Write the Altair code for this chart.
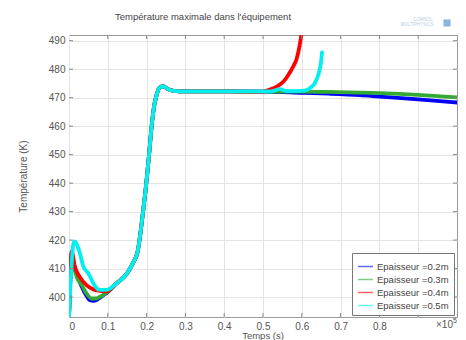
import altair as alt
import pandas as pd

# ---- data (time in units of 1e5 s, temperature in K) ----
names = ["Epaisseur =0.2m", "Epaisseur =0.3m", "Epaisseur =0.4m", "Epaisseur =0.5m"]
colors = ["#0000ff", "#33aa33", "#ff0000", "#00f0f0"]

rise_t = [0.12, 0.15, 0.165, 0.177, 0.19, 0.2, 0.207, 0.213, 0.22, 0.226, 0.232, 0.242, 0.255, 0.27, 0.3, 0.4, 0.5]
rise_T = [404.5, 408.4, 412.0, 416.0, 429.0, 441.0, 451.0, 460.0, 467.5, 471.0, 473.3, 474.0, 473.0, 472.4, 472.2, 472.2, 472.1]

t_02 = [0, 0.003, 0.007, 0.012, 0.02, 0.03, 0.045, 0.054, 0.063, 0.071, 0.08, 0.09, 0.1] + rise_t + [0.6, 0.67, 0.75, 0.8, 0.9, 1.0]
T_02 = [393, 405, 415.5, 412, 408, 404.5, 400.5, 398.9, 398.7, 399.0, 399.8, 400.8, 401.8] + rise_T + [471.7, 471.4, 470.9, 470.4, 469.4, 468.3]

t_03 = [0, 0.003, 0.007, 0.012, 0.02, 0.033, 0.045, 0.058, 0.071, 0.08, 0.088, 0.1] + rise_t + [0.6, 0.67, 0.75, 0.8, 0.9, 1.0]
T_03 = [393, 405, 415, 411, 407, 404.2, 401.3, 399.5, 399.5, 400.1, 400.7, 401.9] + rise_T + [472.1, 472.0, 471.8, 471.6, 471.0, 470.1]

t_04 = [0, 0.003, 0.007, 0.015, 0.028, 0.045, 0.063, 0.08, 0.097] + rise_t + [0.508, 0.525, 0.543, 0.558, 0.568, 0.578, 0.586, 0.594, 0.598, 0.6]
T_04 = [393, 405, 416, 410.7, 407, 404.2, 402.7, 402.2, 402.0] + rise_T + [472.4, 473.2, 474.5, 476.5, 478.6, 481.0, 483.3, 488.0, 491.3, 493.0]

t_05 = [0, 0.004, 0.008, 0.011, 0.015, 0.02, 0.028, 0.037, 0.05, 0.063, 0.075, 0.088, 0.101] + rise_t[:-1] + [0.52, 0.543, 0.56, 0.6, 0.611, 0.625, 0.633, 0.64, 0.646, 0.65, 0.652]
T_05 = [393, 405, 414, 418.5, 419.5, 418.5, 415.4, 410.7, 408.3, 404.8, 402.7, 402.5, 402.7] + rise_T[:-1] + [472.2, 473.0, 472.3, 472.4, 472.6, 473.8, 475.0, 477.0, 479.8, 483.0, 485.9]

x_ticks = [0, 0.1, 0.2, 0.3, 0.4, 0.5, 0.6, 0.7, 0.8, 0.9]
y_ticks = [400, 410, 420, 430, 440, 450, 460, 470, 480, 490]

rows = []
for name, ts, Ts in zip(names, [t_02, t_03, t_04, t_05], [T_02, T_03, T_04, T_05]):
    for t, T in zip(ts, Ts):
        rows.append({"t": t, "T": T, "serie": name})
df = pd.DataFrame(rows)

W, H = 388, 282
FONT = "Liberation Sans"
xs = alt.Scale(domain=[0, 1], nice=False, zero=False)
ys = alt.Scale(domain=[393, 492], nice=False, zero=False)
xax = alt.Axis(values=x_ticks, labelOverlap=False,
               labelExpr="datum.value > 0.85 ? '' : format(datum.value, '.1~f')")
yax = alt.Axis(values=y_ticks, labelOverlap=False, labelExpr="format(datum.value, 'd')")
XT = None
YT = "Température (K)"

lines = alt.Chart(df).mark_line(strokeWidth=3.8, clip=True, strokeJoin="round", strokeCap="round",
                                interpolate="monotone").encode(
    x=alt.X("t:Q", scale=xs, title=XT, axis=xax),
    y=alt.Y("T:Q", scale=ys, title=YT, axis=yax),
    color=alt.Color("serie:N", scale=alt.Scale(domain=names, range=colors),
                    legend=alt.Legend(orient="none", legendX=283, legendY=218, title=None,
                                      symbolType="stroke", symbolSize=225, symbolStrokeWidth=1.5,
                                      symbolOpacity=0.6,
                                      labelFont=FONT, labelFontSize=9.5, labelColor="#444",
                                      padding=5, rowPadding=0, labelOffset=3,
                                      strokeColor="#777", fillColor="white", cornerRadius=0)),
)

xt = pd.DataFrame({"t": x_ticks[1:]})
yt = pd.DataFrame({"T": y_ticks})
tick_col = "#888"
left_t = alt.Chart(yt).mark_rule(color=tick_col).encode(
    y=alt.Y("T:Q", scale=ys, title=YT, axis=yax), x=alt.value(0), x2=alt.value(4))
right_t = alt.Chart(yt).mark_rule(color=tick_col).encode(
    y=alt.Y("T:Q", scale=ys, title=YT, axis=yax), x=alt.value(W - 4), x2=alt.value(W))
bot_t = alt.Chart(xt).mark_rule(color=tick_col).encode(
    x=alt.X("t:Q", scale=xs, title=XT, axis=xax), y=alt.value(H - 4), y2=alt.value(H))
top_t = alt.Chart(xt).mark_rule(color=tick_col).encode(
    x=alt.X("t:Q", scale=xs, title=XT, axis=xax), y=alt.value(0), y2=alt.value(4))


def label(text, x, y, size, color, align="center"):
    return alt.Chart(pd.DataFrame({"s": [text]})).mark_text(
        font=FONT, fontSize=size, color=color, align=align, baseline="middle"
    ).encode(text="s:N", x=alt.value(x), y=alt.value(y))


title = label("Température maximale dans l'équipement", 134, -18, 9.5, "#444")
xtitle = label("Temps (s)", W / 2, H + 19, 9.5, "#555")
exp1 = label("×10", 367, H + 8, 10, "#555", "left")
exp2 = label("5", 384, H + 4, 7, "#555", "left")
logo1 = label("COMSOL", 354, -15, 4.5, "#b8cde3")
logo2 = label("MULTIPHYSICS", 348, -10, 4.5, "#b8cde3")
icon = alt.Chart(pd.DataFrame({"s": [1]})).mark_point(
    shape="square", filled=True, color="#6fa3d6", size=50, opacity=0.8
).encode(x=alt.value(378), y=alt.value(-12))

chart = alt.layer(lines, left_t, right_t, bot_t, top_t, title, xtitle, exp1, exp2, logo1, logo2, icon).properties(
    width=W, height=H,
    autosize=alt.AutoSizeParams(type="none"),
    padding={"left": 61, "top": 27, "right": 1, "bottom": 25},
).configure_view(stroke="#999", strokeWidth=1).configure_axis(
    grid=True, gridColor="#e4e4e4", domain=False, ticks=False, labelOverlap=False,
    labelFont=FONT, labelFontSize=10, labelColor="#555",
    titleFont=FONT, titleFontSize=10, titleColor="#555", titleFontWeight="normal",
    labelPadding=4,
).configure_axisY(titlePadding=20).configure_axisX(labelPadding=4)

chart.save("out.html", embed_options={"renderer": "svg", "actions": False})
